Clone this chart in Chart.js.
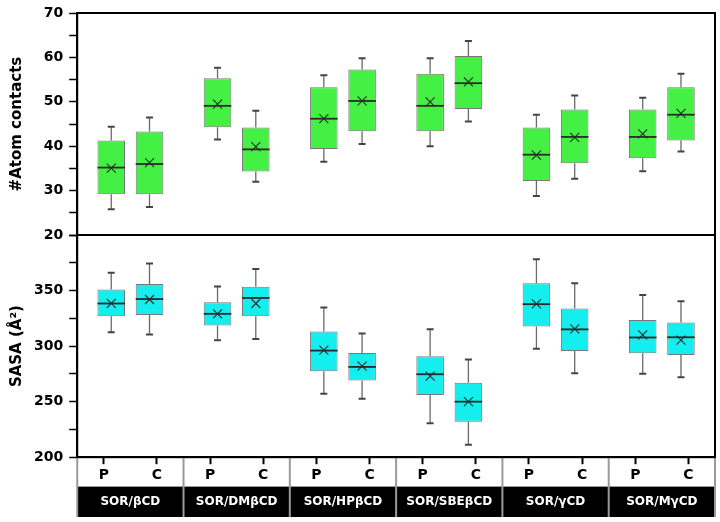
<!DOCTYPE html>
<html lang="en">
<head>
<meta charset="UTF-8">
<title>Atom contacts and SASA</title>
<script src="https://cdn.jsdelivr.net/npm/chart.js@4.4.0/dist/chart.umd.min.js"></script>
<style>
    html, body { margin: 0; padding: 0; background: #fff; }
    canvas { display: block; }
</style>
</head>
<body>
<canvas id="chart" width="720" height="522"></canvas>
<script>
// categories
const groups = ['SOR/βCD', 'SOR/DMβCD', 'SOR/HPβCD', 'SOR/SBEβCD', 'SOR/γCD', 'SOR/MγCD'];
const pcLabels = ['P', 'C', 'P', 'C', 'P', 'C', 'P', 'C', 'P', 'C', 'P', 'C'];

// axis ranges
const atomRange = [20, 70];
const sasaRange = [200, 400];

// #Atom contacts, P
const atomPMin  = [25.8, 41.5, 36.5, 40.0, 28.8, 34.4];
const atomPQ1   = [29.2, 44.3, 39.4, 43.4, 32.2, 37.3];
const atomPMed  = [35.2, 49.1, 46.2, 49.1, 38.1, 42.1];
const atomPQ3   = [41.3, 55.3, 53.3, 56.3, 44.2, 48.3];
const atomPMax  = [44.4, 57.7, 56.0, 59.8, 47.1, 50.9];
const atomPMean = [35.1, 49.5, 46.2, 50.0, 38.0, 42.8];

// #Atom contacts, C
const atomCMin  = [26.3, 32.0, 40.5, 45.6, 32.7, 38.8];
const atomCQ1   = [29.2, 34.3, 43.4, 48.4, 36.2, 41.3];
const atomCMed  = [36.0, 39.3, 50.2, 54.2, 42.1, 47.1];
const atomCQ3   = [43.3, 44.2, 57.3, 60.3, 48.3, 53.3];
const atomCMax  = [46.5, 48.0, 59.8, 63.7, 51.4, 56.3];
const atomCMean = [36.3, 39.9, 50.2, 54.5, 42.0, 47.4];

// SASA, P
const sasaPMin  = [312.6, 305.4, 257.1, 230.6, 297.7, 275.1];
const sasaPQ1   = [326.9, 318.6, 277.4, 256.0, 317.8, 293.7];
const sasaPMed  = [338.4, 329.1, 296.0, 274.7, 337.8, 307.8];
const sasaPQ3   = [351.1, 339.5, 313.3, 291.0, 356.7, 323.5];
const sasaPMax  = [366.0, 353.8, 334.8, 315.3, 378.3, 346.0];
const sasaPMean = [338.5, 329.0, 296.5, 273.0, 338.0, 310.2];

// SASA, C
const sasaCMin  = [310.6, 306.4, 252.6, 211.2, 275.6, 272.0];
const sasaCQ1   = [328.1, 326.9, 269.1, 232.0, 295.7, 292.1];
const sasaCMed  = [342.4, 343.4, 281.3, 250.0, 315.1, 308.0];
const sasaCQ3   = [356.0, 353.5, 293.9, 267.0, 334.0, 321.3];
const sasaCMax  = [374.4, 369.5, 311.4, 288.0, 356.7, 340.5];
const sasaCMean = [342.0, 338.4, 282.0, 250.0, 315.5, 305.5];

const FONT = "'DejaVu Sans', 'Liberation Sans', Arial, sans-serif";
const GREEN = '#44f044';
const CYAN = '#14eeee';

function boxSet(label, yAxis, stack, color, q1, q3, min, med, max, mean) {
    return {
        label: label,
        yAxisID: yAxis,
        xAxisID: 'x',
        stack: stack,
        data: q1.map((v, i) => [v, q3[i]]),
        backgroundColor: color,
        borderColor: '#777',
        borderWidth: 1,
        borderSkipped: false,
        categoryPercentage: 0.72,
        barPercentage: 0.72,
        stats: { min: min, med: med, max: max, mean: mean, q1: q1, q3: q3 }
    };
}

// whiskers, median line and mean cross on top of each box
const boxExtras = {
    id: 'boxExtras',
    afterDatasetsDraw(chart) {
        const ctx = chart.ctx;
        ctx.save();
        chart.data.datasets.forEach((ds, d) => {
            const meta = chart.getDatasetMeta(d);
            const ys = chart.scales[meta.yAxisID];
            const s = ds.stats;
            meta.data.forEach((bar, i) => {
                const x = bar.x;
                const half = bar.width / 2;
                const pMin = ys.getPixelForValue(s.min[i]);
                const pMax = ys.getPixelForValue(s.max[i]);
                const pQ1 = ys.getPixelForValue(s.q1[i]);
                const pQ3 = ys.getPixelForValue(s.q3[i]);
                const pMed = ys.getPixelForValue(s.med[i]);
                const pMean = ys.getPixelForValue(s.mean[i]);

                ctx.strokeStyle = '#6a6a6a';
                ctx.lineWidth = 1.3;
                ctx.beginPath();
                ctx.moveTo(x, pMax); ctx.lineTo(x, pQ3);
                ctx.moveTo(x, pQ1); ctx.lineTo(x, pMin);
                ctx.stroke();

                ctx.strokeStyle = '#444';
                ctx.lineWidth = 2;
                ctx.beginPath();
                ctx.moveTo(x - 3.5, pMax); ctx.lineTo(x + 3.5, pMax);
                ctx.moveTo(x - 3.5, pMin); ctx.lineTo(x + 3.5, pMin);
                ctx.stroke();

                ctx.strokeStyle = '#2a2a2a';
                ctx.lineWidth = 1.8;
                ctx.beginPath();
                ctx.moveTo(x - half, pMed); ctx.lineTo(x + half, pMed);
                ctx.stroke();

                ctx.lineWidth = 1.1;
                ctx.beginPath();
                ctx.moveTo(x - 4.5, pMean - 4.5); ctx.lineTo(x + 4.5, pMean + 4.5);
                ctx.moveTo(x - 4.5, pMean + 4.5); ctx.lineTo(x + 4.5, pMean - 4.5);
                ctx.stroke();
            });
        });
        ctx.restore();
    }
};

// black group band, dividers and plot frame
const frame = {
    id: 'frame',
    beforeDraw(chart) {
        const sx = chart.scales.x;
        const a = chart.chartArea;
        const ctx = chart.ctx;
        ctx.save();
        ctx.fillStyle = '#000';
        ctx.fillRect(a.left, sx.top, a.right - a.left, sx.bottom - sx.top);
        ctx.restore();
    },
    afterDraw(chart) {
        const sx = chart.scales.x;
        const a = chart.chartArea;
        const ctx = chart.ctx;
        ctx.save();
        const edges = [a.left];
        for (let i = 0; i < groups.length - 1; i++) {
            edges.push((sx.getPixelForValue(i) + sx.getPixelForValue(i + 1)) / 2);
        }
        edges.push(a.right);
        ctx.strokeStyle = '#9a9a9a';
        ctx.lineWidth = 2;
        ctx.beginPath();
        edges.forEach(e => {
            ctx.moveTo(e, a.bottom + 1);
            ctx.lineTo(e, sx.bottom);
        });
        ctx.stroke();

        ctx.strokeStyle = '#000';
        ctx.lineWidth = 2;
        ctx.strokeRect(a.left, a.top, a.right - a.left, a.bottom - a.top);
        const sep = chart.scales.yAtom.bottom;
        ctx.beginPath();
        ctx.moveTo(a.left, sep);
        ctx.lineTo(a.right, sep);
        ctx.stroke();
        ctx.restore();
    }
};

function yAxis(range, step, title) {
    return {
        type: 'linear',
        position: 'left',
        stack: 'panels',
        stackWeight: 1,
        stacked: false,
        min: range[0],
        max: range[1],
        ticks: {
            stepSize: step / 2,
            autoSkip: false,
            color: '#000',
            padding: 6,
            font: { family: FONT, size: 14, weight: 'bold', lineHeight: 1 },
            callback: v => (v % step === 0 && v !== 400) ? v : ''
        },
        grid: { drawOnChartArea: false, tickLength: 8, color: '#000', tickWidth: 1.5 },
        border: { color: '#000', width: 2 },
        title: {
            display: true,
            text: title,
            color: '#000',
            padding: { top: 0, bottom: 2 },
            font: { family: FONT, size: 15, weight: 'bold' }
        }
    };
}

new Chart(document.getElementById('chart'), {
    type: 'bar',
    data: {
        labels: groups,
        datasets: [
            boxSet('#Atom contacts P', 'yAtom', 'P', GREEN, atomPQ1, atomPQ3, atomPMin, atomPMed, atomPMax, atomPMean),
            boxSet('#Atom contacts C', 'yAtom', 'C', GREEN, atomCQ1, atomCQ3, atomCMin, atomCMed, atomCMax, atomCMean),
            boxSet('SASA P', 'ySasa', 'P', CYAN, sasaPQ1, sasaPQ3, sasaPMin, sasaPMed, sasaPMax, sasaPMean),
            boxSet('SASA C', 'ySasa', 'C', CYAN, sasaCQ1, sasaCQ3, sasaCMin, sasaCMed, sasaCMax, sasaCMean)
        ]
    },
    options: {
        responsive: false,
        animation: false,
        layout: { padding: { left: 8, right: 5, top: 0, bottom: 5 } },
        plugins: { legend: { display: false }, tooltip: { enabled: false } },
        scales: {
            // defined first -> lower panel of the stack
            ySasa: yAxis(sasaRange, 50, 'SASA (Å²)'),
            yAtom: yAxis(atomRange, 10, '#Atom contacts'),
            xPC: {
                type: 'category',
                labels: pcLabels,
                position: 'bottom',
                weight: 1,
                offset: true,
                grid: { drawOnChartArea: false, offset: false, tickLength: 7, color: '#000', tickWidth: 2 },
                border: { display: true, color: '#000', width: 2 },
                ticks: {
                    color: '#000',
                    padding: 0,
                    autoSkip: false,
                    maxRotation: 0,
                    font: { family: FONT, size: 14, weight: 'bold', lineHeight: 1.6 }
                }
            },
            x: {
                type: 'category',
                position: 'bottom',
                weight: 2,
                stacked: true,
                offset: true,
                grid: { display: false, drawTicks: false, tickLength: 0 },
                border: { display: false },
                ticks: {
                    color: '#fff',
                    padding: 8,
                    autoSkip: false,
                    maxRotation: 0,
                    font: { family: FONT, size: 12, weight: 'bold' }
                }
            }
        }
    },
    plugins: [boxExtras, frame]
});
</script>
</body>
</html>
